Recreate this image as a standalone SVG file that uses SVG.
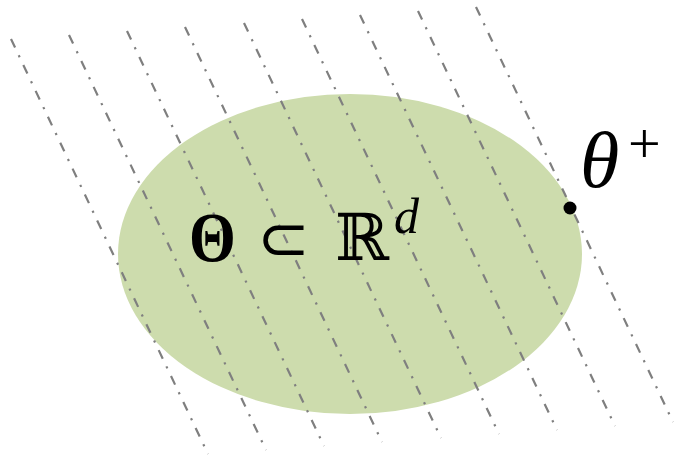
<svg xmlns="http://www.w3.org/2000/svg" width="676" height="457" viewBox="0 0 676 457">
<style>
.hatch line{stroke:#7f7f7f;stroke-width:2.2;stroke-dasharray:9.5 8.5 2.2 8.5;fill:none}
.t{fill:#000}
</style>
<rect width="676" height="457" fill="#fff"/>
<g id="region">
<ellipse cx="350" cy="254" rx="232" ry="160" fill="#cddcad"/>
</g>
<g id="connectors" class="hatch">
<line x1="11" y1="39" x2="208" y2="454"/>
<line x1="69" y1="35" x2="266" y2="450"/>
<line x1="127" y1="31" x2="324" y2="446"/>
<line x1="185" y1="27" x2="382" y2="442"/>
<line x1="244" y1="23" x2="441" y2="438"/>
<line x1="302" y1="19" x2="499" y2="434"/>
<line x1="360" y1="15" x2="557" y2="430"/>
<line x1="418" y1="11" x2="615" y2="426"/>
<line x1="476" y1="7" x2="673" y2="422"/>
</g>
<g id="label-theta-set">
<text class="t" x="189" y="261" font-family="Liberation Serif, DejaVu Serif, serif" font-size="70" font-weight="bold" transform="translate(189 0) scale(0.86 1) translate(-189 0)">Θ</text>
<text class="t" x="257" y="260" font-family="DejaVu Sans, sans-serif" font-size="63">⊂</text>
<text class="t" x="335" y="260" font-family="DejaVu Serif, DejaVu Sans, serif" font-size="65">ℝ</text>
<text class="t" x="394" y="233" font-family="Liberation Serif, serif" font-style="italic" font-size="50">d</text>
</g>
<g id="label-theta-plus">
<text class="t" x="580" y="187" font-family="Liberation Serif, serif" font-style="italic" font-size="80">θ</text>
<text class="t" x="628" y="163" font-family="Liberation Serif, serif" font-size="58">+</text>
</g>
<g id="point">
<circle cx="570" cy="208" r="6.5" fill="#000"/>
</g>
</svg>
